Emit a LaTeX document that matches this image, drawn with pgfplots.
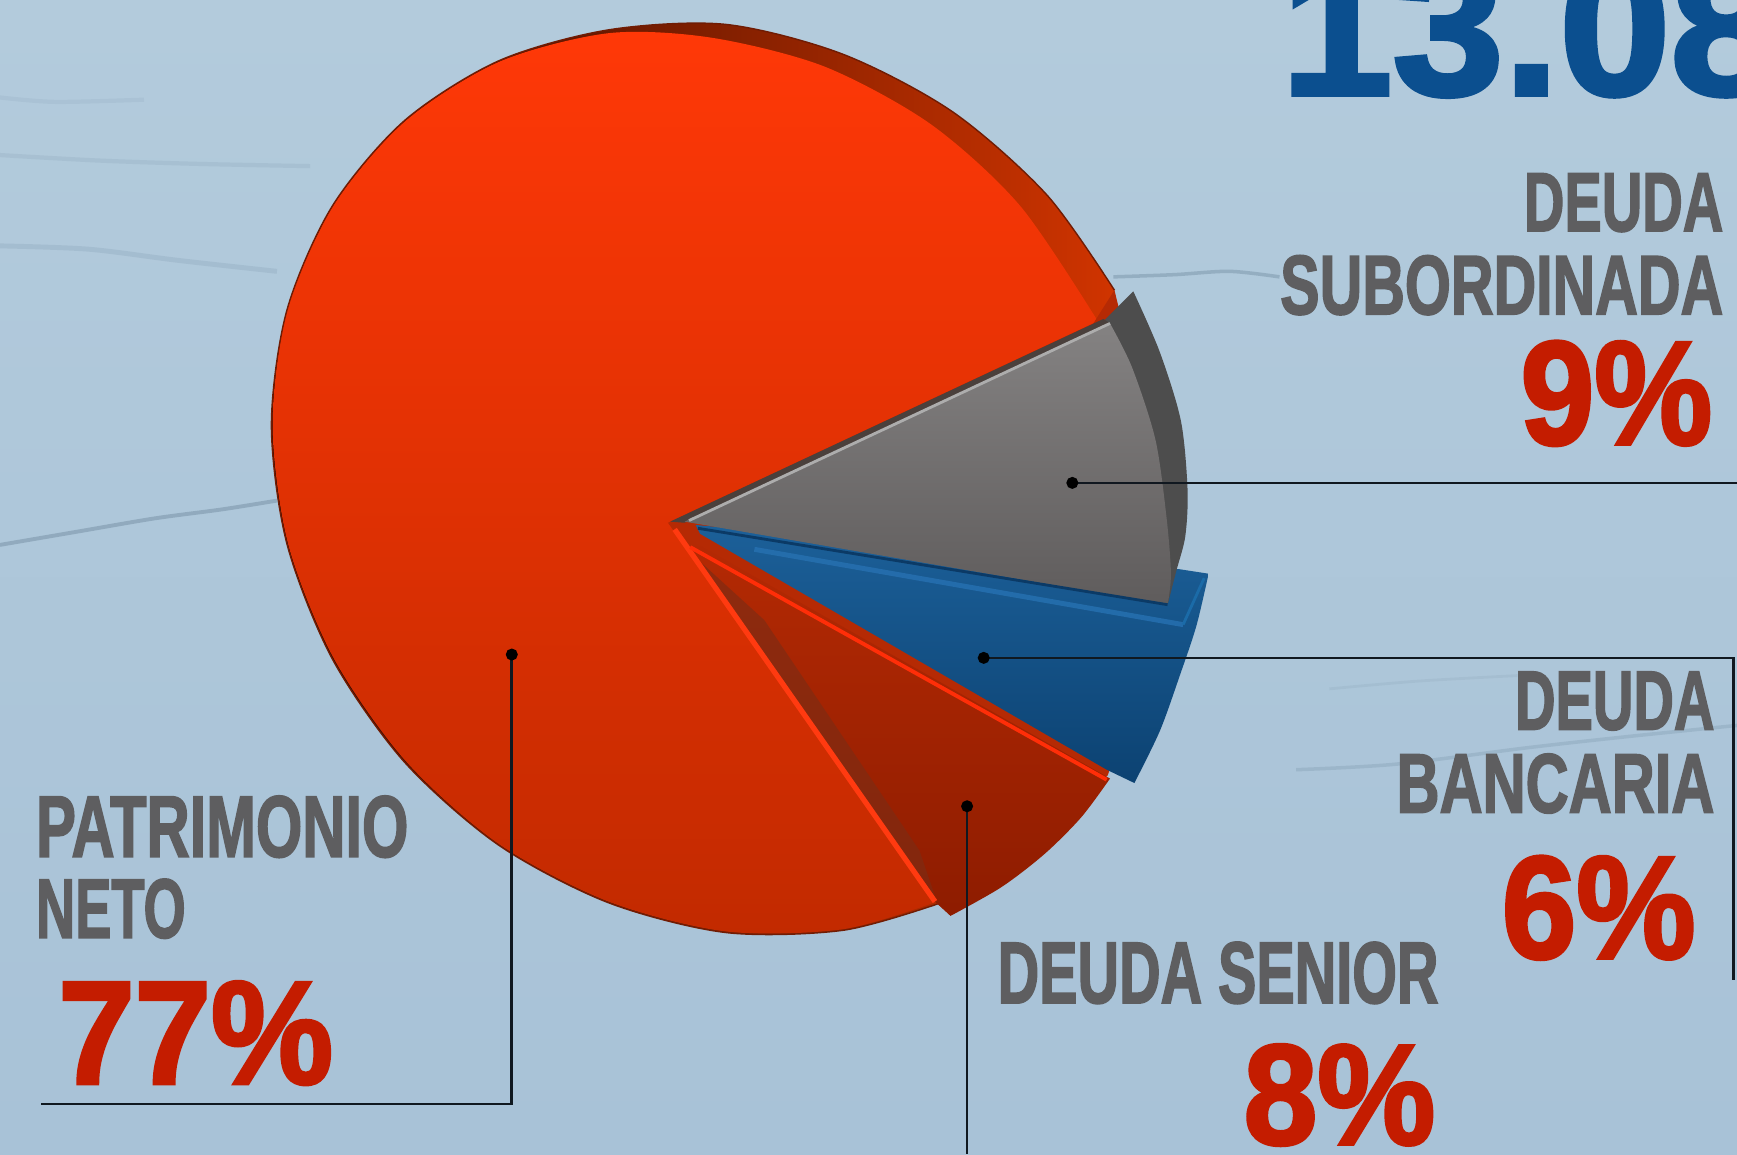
\documentclass[border=0pt]{standalone}
\usepackage{pgfplots}
\pgfplotsset{compat=1.18}
\usepackage{graphicx}
\usepackage{fontspec}
\setmainfont{Liberation Sans}
\newfontfamily\din[FakeBold=2.2]{Liberation Sans}
\newfontfamily\num[FakeBold=2.4]{Liberation Sans}
\newcommand\dc[1]{\definecolor{#1}{HTML}{#1}}
\dc{B3CBDC}\dc{A8C2D7}\dc{7E98AC}\dc{8EA8BC}\dc{9CB5C8}\dc{701C04}\dc{2A0800}\dc{D03400}\dc{FF3807}\dc{C22A00}
\dc{B52A04}\dc{8E1C00}\dc{7C2C14}\dc{FF3A10}\dc{FF2E08}\dc{1C6099}\dc{0C4272}\dc{2670B0}\dc{1B6BA8}\dc{4D4D4D}
\dc{848282}\dc{5F5C5C}\dc{4A403C}\dc{ADADAD}\dc{0B3A66}\dc{101820}
\definecolor{lab}{HTML}{5E5E60}
\definecolor{pct}{HTML}{C41C00}
\definecolor{ttl}{HTML}{0B4F8F}
\newlength\uu
\setlength\uu{0.11078mm}
\newcommand\lab[5]{\node[anchor=south west,inner sep=0pt,text=lab] at (axis cs:#1,#2) {\resizebox{#3\uu}{#4\uu}{\din\bfseries #5}};}
\newcommand\pc[6]{\node[anchor=south west,inner sep=0pt,text=#5] at (axis cs:#1,#2) {\resizebox{#3\uu}{#4\uu}{\num\bfseries #6}};}
\begin{document}
\begin{tikzpicture}
\useasboundingbox (0,0) rectangle (173.7mm,115.4mm);
\begin{axis}[at={(0,0)},anchor=south west,scale only axis,width=173.7mm,height=115.4mm,
  xmin=0,xmax=1568,ymin=0,ymax=1042,y dir=reverse,hide axis,clip=false]
% background
\addplot[draw=none,top color=B3CBDC,bottom color=A8C2D7] coordinates {(0,0)(1568,0)(1568,1042)(0,1042)} -- cycle;
% creases
\addplot[color=7E98AC,opacity=.6,line width=1.1pt,smooth] coordinates {(0,492)(70,480)(140,468)(200,460)(250,452)};
\addplot[color=8EA8BC,opacity=.35,line width=1.4pt,smooth] coordinates {(0,222)(80,225)(160,235)(250,245)};
\addplot[color=9CB5C8,opacity=.45,line width=1.2pt,smooth] coordinates {(0,140)(90,145)(180,148)(280,150)};
\addplot[color=9CB5C8,opacity=.35,line width=1.2pt,smooth] coordinates {(0,88)(50,92)(130,90)};
\addplot[color=7E98AC,opacity=.55,line width=1pt,smooth] coordinates {(1005,250)(1060,248)(1110,245)(1155,250)};
\addplot[color=8EA8BC,opacity=.5,line width=1pt,smooth] coordinates {(1170,695)(1260,690)(1380,675)(1470,665)(1568,655)};
\addplot[color=9CB5C8,opacity=.45,line width=.8pt,smooth] coordinates {(1200,622)(1280,615)(1370,610)};
% red silhouette (rim)
\addplot[draw=none,left color=2A0800,right color=D03400,smooth] coordinates {
(1006,262)(945,176)(860,101)(761,49)(655,22)(549,27)(450,55)(365,109)(300,186)(259,280)(245,384)(259,491)
(300,595)(365,688)(450,763)(549,815)(655,842)(761,840)(847,816)};
% red face
\addplot[draw=none,top color=FF3807,bottom color=C22A00,smooth] coordinates {
(991,290)(921,186)(840,112)(744,60)(642,34)(549,30)(450,56)(365,110)(300,187)(259,281)(246,384)(260,491)
(301,594)(366,687)(450,762)(549,814)(655,841)(761,839)(846,814)};
% outline of the pie
\addplot[color=701C04,line width=.4pt,smooth] coordinates {
(1006,262)(945,176)(860,101)(761,49)(655,22)(549,27)(450,55)(365,109)(300,186)(259,280)(245,384)(259,491)
(300,595)(365,688)(450,763)(549,815)(655,842)(761,840)(847,816)};
% notch behind the detached wedges
\addplot[draw=none,fill=B52A04] coordinates {(603,472)(987,292)(1006,262)(1040,400)(1052,540)(1000,700)(858,826)(845,815)} -- cycle;
% senior wedge
\addplot[draw=none,top color=B52A04,bottom color=8E1C00,smooth] coordinates {
(1002,703)(976,738)(943,771)(904,801)(858,827)} -- (axis cs:845,815) -- (axis cs:612,480) -- (axis cs:620,486) -- cycle;
\addplot[draw=none,fill=7C2C14,opacity=.65] coordinates {(622,498)(846,815)(830,768)(690,560)} -- cycle;
\addplot[color=FF3A10,line width=1.5pt] coordinates {(609,478)(844,814)};
\addplot[color=FF2E08,line width=1.1pt] coordinates {(623,494)(999,704)};
% bank wedge
\addplot[draw=none,top color=1C6099,bottom color=0C4272,smooth] coordinates {
(1091,518)(1080,565)(1065,610)(1047,660)(1024,707)} -- (axis cs:999,695) -- (axis cs:632,482) -- (axis cs:628,474) -- (axis cs:1065,514) -- cycle;
\addplot[color=2670B0,opacity=.85,line width=1.4pt] coordinates {(681,496)(1068,564)};
\addplot[color=1B6BA8,line width=.8pt] coordinates {(1068,564)(1087,522)};
% subordinated wedge
\addplot[draw=none,fill=4D4D4D,smooth] coordinates {(1023,263)(1047,318)(1066,380)(1072,442)(1070,484)(1062,515)(1054,546)} -- (axis cs:1000,400) -- (axis cs:996,290) -- cycle;
\addplot[draw=none,fill=4A403C] coordinates {(605,471)(996,288)(1002,292)(618,472)} -- cycle;
\addplot[draw=none,top color=848282,bottom color=5F5C5C,smooth] coordinates {
(1002,292)(1022,332)(1043,397)(1053,467)(1057,518)(1054,546)} -- (axis cs:618,471) -- cycle;
\addplot[color=ADADAD,line width=.8pt] coordinates {(622,470)(1002,292)};
\addplot[color=0B3A66,line width=.8pt] coordinates {(630,477)(1054,546)};
% leaders
\addplot[color=101820,line width=.75pt,mark=none] coordinates {(968,436)(1568,436)};
\addplot[color=101820,line width=.75pt] coordinates {(888,594)(1565,594)(1565,885)};
\addplot[color=101820,line width=.75pt] coordinates {(873,728)(873,1042)};
\addplot[color=101820,line width=.75pt] coordinates {(462,591)(462,997)(37,997)};
\addplot[only marks,mark=*,mark size=1.5pt,color=black] coordinates {(968,436)(888,594)(873,728)(462,591)};
% text
\pc{1156}{88}{552}{120}{ttl}{13.080}
\lab{1375}{210}{180}{52}{DEUDA}
\lab{1155}{285}{400}{53}{SUBORDINADA}
\pc{1372}{403}{173}{93}{pct}{9\%}
\lab{1367}{660}{180}{52}{DEUDA}
\lab{1260}{735}{287}{53}{BANCARIA}
\pc{1355}{867}{175}{92}{pct}{6\%}
\lab{900}{907}{398}{55}{DEUDA SENIOR}
\pc{1122}{1035}{173}{90}{pct}{8\%}
\lab{32}{775}{336}{55}{PATRIMONIO}
\lab{32}{848}{135}{53}{NETO}
\pc{52}{980}{248}{92}{pct}{77\%}
\end{axis}
\end{tikzpicture}
\end{document}
